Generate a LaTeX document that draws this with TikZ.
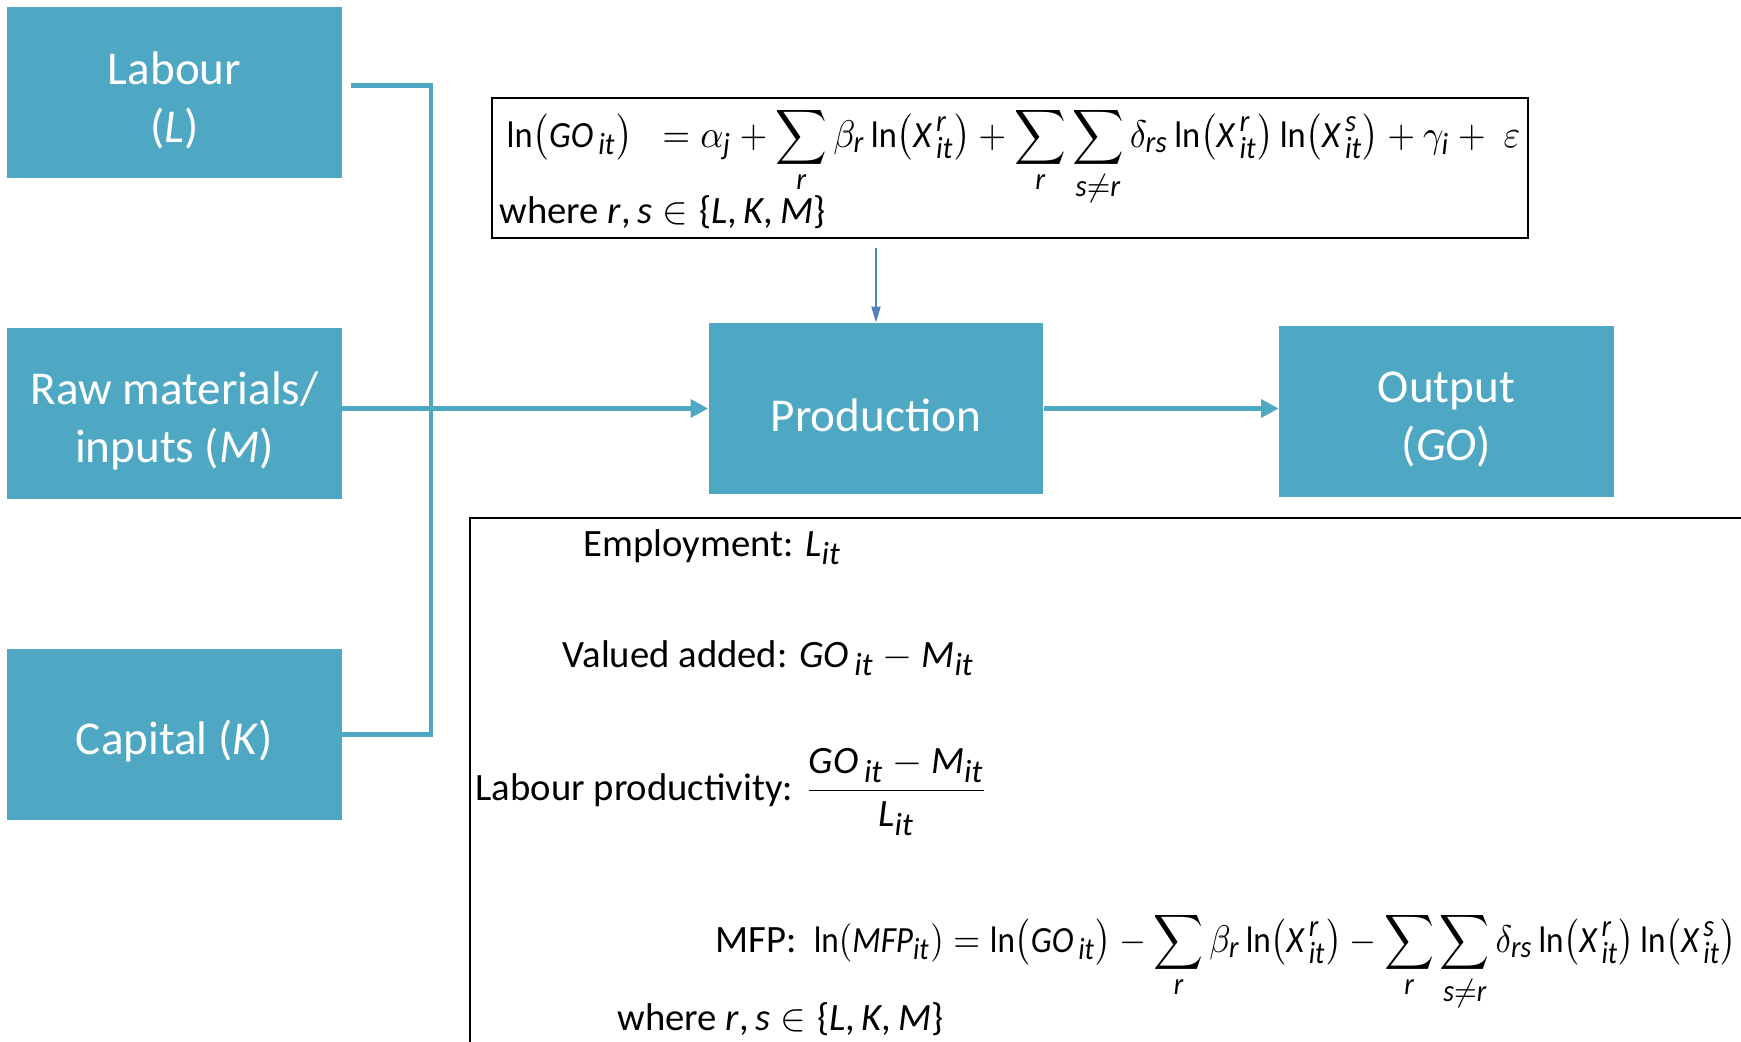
\documentclass[tikz,border=0pt]{standalone}
\usepackage{amsmath}
\usepackage{fontspec}
\setmainfont{Carlito}
\usepackage[italic,noplusnominus]{mathastext}
\usetikzlibrary{positioning,arrows.meta}

\definecolor{flowblue}{RGB}{79,168,195}
\definecolor{tipblue}{RGB}{79,129,189}

% sets the block labels a touch lower in their boxes
\newcommand{\blockstrut}{\rule{0pt}{1em}}
% summation index tucked up under the sign
\newcommand{\uplim}[1]{\raisebox{2pt}[0pt][0pt]{$\scriptstyle #1$}}

\begin{document}
\begin{tikzpicture}[
            x=0.01cm, y=-0.01cm,
            every node/.style={align=center, font=\fontsize{13.4}{16.5}\selectfont}
        ]

        % Define styles for nodes
        \tikzset{
            block/.style={rectangle, fill=flowblue, text=white, inner sep=0pt, minimum width=3.34cm, minimum height=1.705cm, align=center},
            feed/.style={draw=flowblue, line width=1.4pt, line join=miter},
            formula/.style={rectangle, draw, line width=0.7pt, inner sep=0pt, minimum width=10.35cm, minimum height=1.40cm},
            eqn/.style={anchor=base west, inner sep=0pt, font=\fontsize{10.5}{13}\selectfont},
            measure/.style={anchor=base west, inner sep=0pt, align=left, font=\fontsize{11}{13}\selectfont}
        }

        \useasboundingbox (0,0) rectangle (1741,1041);
        \clip (0,0) rectangle (1741,1041);

        % Inputs
        \node[block] (labour) at (174.5,92.75) {\blockstrut Labour\\(\textit{L})};
        \node[block, below=1.485cm of labour] (raw) {\blockstrut Raw materials/\\inputs (\textit{M})};
        \node[block, below=1.49cm of raw] (capital) {\blockstrut Capital (\textit{K})};

        % Production and output
        \node[block] (prod) at (876,408.5) {\blockstrut Production};
        \node[block] (output) at (1446.5,411.5) {\blockstrut Output\\(\textit{GO})};

        % Translog production function
        \node[formula] (translog) at (1010,168) {};
        \node[eqn] (tlmath) at (506,147)
            {\resizebox{10.13cm}{\height}{$\displaystyle \ln\bigl(GO_{\,it}\bigr)\;\;=\alpha_j+\sum_{\uplim{r}}\beta_r\ln\bigl(X_{\,it}^{\,r}\bigr)+\sum_{\uplim{r}}\sum_{\uplim{s\neq r}}\delta_{rs}\ln\bigl(X_{\,it}^{\,r}\bigr)\ln\bigl(X_{\,it}^{\,s}\bigr)+\gamma_i+\;\varepsilon$}};
        \node[measure] (tlset) at (499,223) {where $r,s\in\{L,K,M\}$};

        % Measures
        \draw[line width=0.5pt] (470,518) rectangle (1800,1100);
        \node[measure] (employ) at (583,556) {Employment: $L_{it}$};
        \node[measure] (valadd) at (562,667) {Valued added: $GO_{\,it}-M_{it}$};
        \node[measure] (labprod) at (475,800) {Labour productivity: $\dfrac{GO_{\,it}-M_{it}}{L_{it}}$};
        \node[measure] (mfp) at (715,952)
            {MFP:\hspace{0.17cm}{\fontsize{10.5}{13}\selectfont\resizebox{9.22cm}{\height}{$\displaystyle\ln(MFP_{it})=\ln\bigl(GO_{\,it}\bigr)-\sum_{\uplim{r}}\beta_r\ln\bigl(X_{\,it}^{\,r}\bigr)-\sum_{\uplim{r}}\sum_{\uplim{s\neq r}}\delta_{rs}\ln\bigl(X_{\,it}^{\,r}\bigr)\ln\bigl(X_{\,it}^{\,s}\bigr)$}}};
        \node[measure] (mfpset) at (617,1030) {where $r,s\in\{L,K,M\}$};

        % Connectors
        \coordinate (jn) at (431,408.5);
        \draw[feed] ([xshift=0.09cm,yshift=0.07cm]labour.east) -| (jn);
        \draw[feed] (capital.east) -| (jn);
        \draw[feed, -{Triangle[length=5pt, width=5pt]}] (prod.west -| raw.east) -- (prod.west);
        \draw[feed, -{Triangle[length=5pt, width=5pt]}] (prod.east) -- (prod.east -| output.west);
        \draw[tipblue, line width=0.4pt, -{Triangle[length=4.5pt, width=2.6pt]}] ([yshift=-0.09cm]prod.north |- translog.south) -- (prod.north);

        \end{tikzpicture}
\end{document}
